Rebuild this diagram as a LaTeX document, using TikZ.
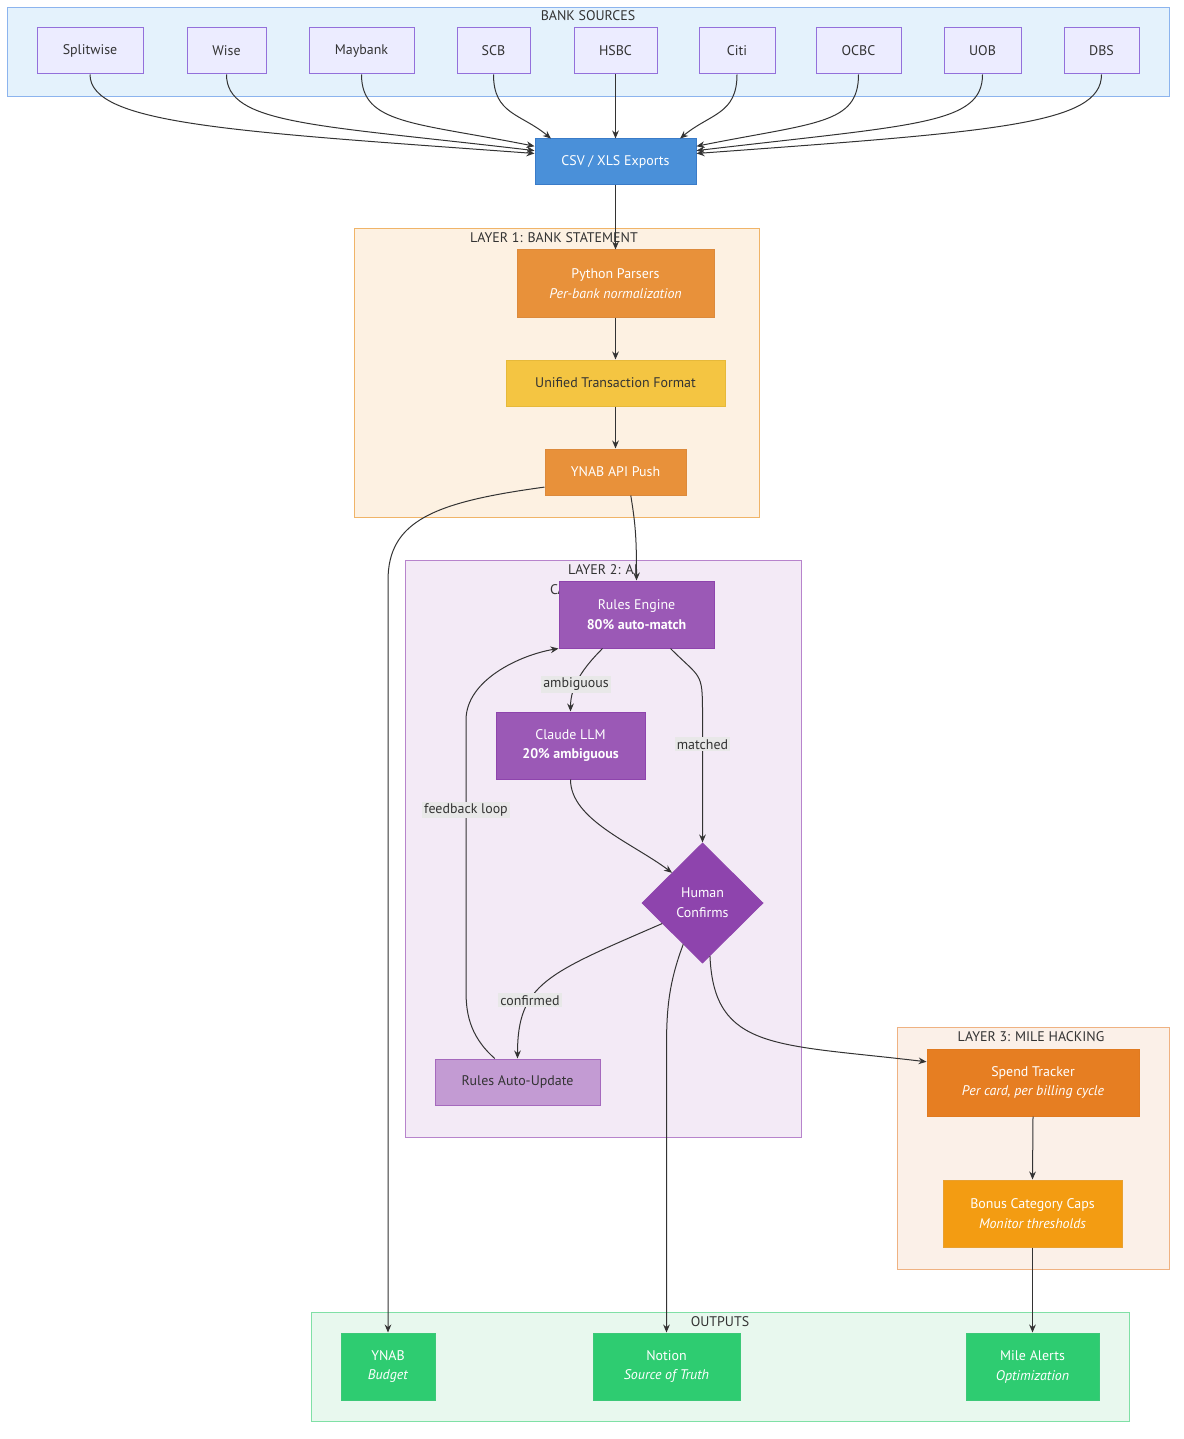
\documentclass[tikz,border=0pt]{standalone}
\usepackage{fontspec}
\setmainfont{PT Sans}
\usetikzlibrary{shapes.geometric,arrows.meta}
\newcommand{\pxu}{0.75bp}
\definecolor{ink}{HTML}{333333}
\definecolor{bankfill}{HTML}{ECECFF}
\definecolor{bankline}{HTML}{9370DB}
\definecolor{srcbg}{HTML}{E4F2FC}
\definecolor{srcline}{HTML}{8CB4EE}
\definecolor{l1bg}{HTML}{FDF1E2}
\definecolor{l1line}{HTML}{F0B468}
\definecolor{l2bg}{HTML}{F3EAF6}
\definecolor{l2line}{HTML}{B784CC}
\definecolor{l3bg}{HTML}{FBF0E8}
\definecolor{l3line}{HTML}{EFB282}
\definecolor{outbg}{HTML}{E8F8EE}
\definecolor{outline}{HTML}{80E0A6}
\definecolor{csvfill}{HTML}{4A90D9}
\definecolor{csvline}{HTML}{3A7BC8}
\definecolor{orgfill}{HTML}{E8913A}
\definecolor{orgline}{HTML}{DC8A3C}
\definecolor{yelfill}{HTML}{F4C542}
\definecolor{yelline}{HTML}{E6B93A}
\definecolor{purfill}{HTML}{9B59B6}
\definecolor{purline}{HTML}{8E44AD}
\definecolor{humfill}{HTML}{8E44AD}
\definecolor{lilfill}{HTML}{C39BD3}
\definecolor{lilline}{HTML}{A569BD}
\definecolor{spdfill}{HTML}{E67E22}
\definecolor{spdline}{HTML}{E07A20}
\definecolor{bonfill}{HTML}{F39C12}
\definecolor{bonline}{HTML}{E8A030}
\definecolor{grnfill}{HTML}{2ECC71}
\definecolor{grnline}{HTML}{3CC878}
\definecolor{lblfill}{HTML}{E8E8E8}
\begin{document}
\begin{tikzpicture}[>={Stealth[length=6bp,width=5bp]}, x=\pxu, y=-\pxu,
    every node/.style={font=\fontsize{10.5}{15}\selectfont, text=ink, align=center, inner sep=0pt},
    box/.style={draw, line width=\pxu, minimum height=46*\pxu},
    bank/.style={box, draw=bankline, fill=bankfill},
    dark/.style={box, text=white},
    tall/.style={minimum height=67*\pxu},
    outbox/.style={dark, tall, fill=grnfill, draw=grnline},
    frame/.style={draw, line width=\pxu, anchor=north west},
    lbl/.style={fill=lblfill, inner sep=1.5bp},
    edge/.style={->, draw=ink, line width=\pxu}]

    % Fundo
    \fill[white] (0,0) rectangle (1184,1439);
    \useasboundingbox (0,0) rectangle (1184,1439);

    % Grupos
    \node (srcframe) [frame, fill=srcbg, draw=srcline, minimum width=1162*\pxu, minimum height=89*\pxu] at (7,7) {};
    \node (l1frame) [frame, fill=l1bg, draw=l1line, minimum width=405*\pxu, minimum height=289*\pxu] at (354,228) {};
    \node (l2frame) [frame, fill=l2bg, draw=l2line, minimum width=396*\pxu, minimum height=577*\pxu] at (405,560) {};
    \node (l3frame) [frame, fill=l3bg, draw=l3line, minimum width=272*\pxu, minimum height=242*\pxu] at (897,1027) {};
    \node (outframe) [frame, fill=outbg, draw=outline, minimum width=818*\pxu, minimum height=109*\pxu] at (311,1312) {};

    % Titulos
    \node (srctitle) at (588,16) {BANK SOURCES};
    \node (l1title) at (554,238) {LAYER 1: BANK STATEMENT};
    \node (l2title) at (603,580) {LAYER 2: AI\\CATEGORIZATION};
    \node (l3title) at (1031,1037) {LAYER 3: MILE HACKING};
    \node (outtitle) at (720,1322) {OUTPUTS};

    % Bancos
    \node (splitwise) [bank, minimum width=106*\pxu] at (90,51) {Splitwise};
    \node (wise) [bank, minimum width=79*\pxu] at (226.5,51) {Wise};
    \node (maybank) [bank, minimum width=105*\pxu] at (361.5,51) {Maybank};
    \node (scb) [bank, minimum width=73*\pxu] at (493.5,51) {SCB};
    \node (hsbc) [bank, minimum width=83*\pxu] at (615.5,51) {HSBC};
    \node (citi) [bank, minimum width=76*\pxu] at (737,51) {Citi};
    \node (ocbc) [bank, minimum width=85*\pxu] at (858.5,51) {OCBC};
    \node (uob) [bank, minimum width=77*\pxu] at (982.5,51) {UOB};
    \node (dbs) [bank, minimum width=75*\pxu] at (1101.5,51) {DBS};

    \node (csv) [dark, fill=csvfill, draw=csvline, minimum width=161*\pxu] at (615.5,162) {CSV / XLS Exports};

    % Camada 1
    \node (python) [dark, tall, fill=orgfill, draw=orgline, minimum width=197*\pxu] at (615.5,283.5) {Python Parsers\\\textit{Per-bank normalization}};
    \node (unified) [box, fill=yelfill, draw=yelline, minimum width=219*\pxu] at (615.5,383) {Unified Transaction Format};
    \node (ynabpush) [dark, fill=orgfill, draw=orgline, minimum width=141*\pxu] at (615.5,472) {YNAB API Push};

    % Camada 2
    \node (rules) [dark, tall, fill=purfill, draw=purline, minimum width=155*\pxu] at (636.5,614.5) {Rules Engine\\\textbf{80\% auto-match}};
    \node (claude) [dark, tall, fill=purfill, draw=purline, minimum width=149*\pxu] at (570.5,745.5) {Claude LLM\\\textbf{20\% ambiguous}};
    \node (human) [diamond, draw=purline, fill=humfill, line width=\pxu, text=white, minimum width=121*\pxu, minimum height=120*\pxu] at (702.5,903) {Human\\Confirms};
    \node (autoupd) [box, fill=lilfill, draw=lilline, minimum width=165*\pxu] at (517.5,1082) {Rules Auto-Update};

    % Camada 3
    \node (spend) [dark, tall, fill=spdfill, draw=spdline, minimum width=212*\pxu] at (1033,1082.5) {Spend Tracker\\\textit{Per card, per billing cycle}};
    \node (bonus) [dark, tall, fill=bonfill, draw=bonline, minimum width=179*\pxu] at (1032.5,1213.5) {Bonus Category Caps\\\textit{Monitor thresholds}};

    % Saidas
    \node (ynab) [outbox, minimum width=94*\pxu] at (388,1366.5) {YNAB\\\textit{Budget}};
    \node (notion) [outbox, minimum width=147*\pxu] at (666.5,1366.5) {Notion\\\textit{Source of Truth}};
    \node (alerts) [outbox, minimum width=133*\pxu] at (1032.5,1366.5) {Mile Alerts\\\textit{Optimization}};

    % Bancos -> exportacao
    \draw[edge] (splitwise.south) .. controls +(0,50) and +(-300,-22) .. (csv.174);
    \draw[edge] (wise.south) .. controls +(0,50) and +(-220,-26) .. (csv.172);
    \draw[edge] (maybank.south) .. controls +(0,50) and +(-120,-24) .. (csv.169);
    \draw[edge] (scb.south) .. controls +(0,40) and +(-30,-25) .. (csv.160);
    \draw[edge] (hsbc.south) -- (csv.north);
    \draw[edge] (citi.south) .. controls +(0,40) and +(30,-25) .. (csv.20);
    \draw[edge] (ocbc.south) .. controls +(0,50) and +(120,-24) .. (csv.11);
    \draw[edge] (uob.south) .. controls +(0,50) and +(220,-26) .. (csv.8);
    \draw[edge] (dbs.south) .. controls +(0,50) and +(300,-22) .. (csv.6);

    % Camada 1
    \draw[edge] (csv.south) -- (python.north);
    \draw[edge] (python.south) -- (unified.north);
    \draw[edge] (unified.south) -- (ynabpush.north);
    \draw[edge] (ynabpush.-57) .. controls +(5,30) and +(0,-40) .. (rules.north);
    \draw[edge] (ynabpush.192) .. controls +(-110,15) and +(0,-60) .. (ynab.north |- rules.north) -- (ynab.north);

    % Camada 2
    \draw[edge] (rules.-135) .. controls +(-20,20) and +(0,-25) .. node[lbl, pos=0.6] {ambiguous} (claude.north);
    \draw[edge] (rules.-45) .. controls +(30,30) and +(0,-40) .. (human.north |- claude.north) -- node[lbl, pos=0.25] {matched} (human.north);
    \draw[edge] (claude.south) .. controls +(0,40) and +(-40,-30) .. (human.north west);
    \draw[edge] (human.207) .. controls +(-115,50) and +(0,-75) .. node[lbl, pos=0.66] {confirmed} (autoupd.north);
    \draw[edge] (autoupd.134) .. controls (468,1035) and (466,1010) .. (466,990) -- node[lbl, pos=0.667] {feedback loop} (466,720) .. controls (466,680) and (520,655) .. (rules.south west);
    \draw[edge] (human.-115) .. controls +(-17,45) and +(0,-40) .. (notion.north |- autoupd.north) -- (notion.north);
    \draw[edge] (human.-82) .. controls +(4,95) and +(-150,-18) .. (spend.169);

    % Camada 3
    \draw[edge] (spend.south) -- (bonus.north);
    \draw[edge] (bonus.south) -- (alerts.north);
\end{tikzpicture}
\end{document}
